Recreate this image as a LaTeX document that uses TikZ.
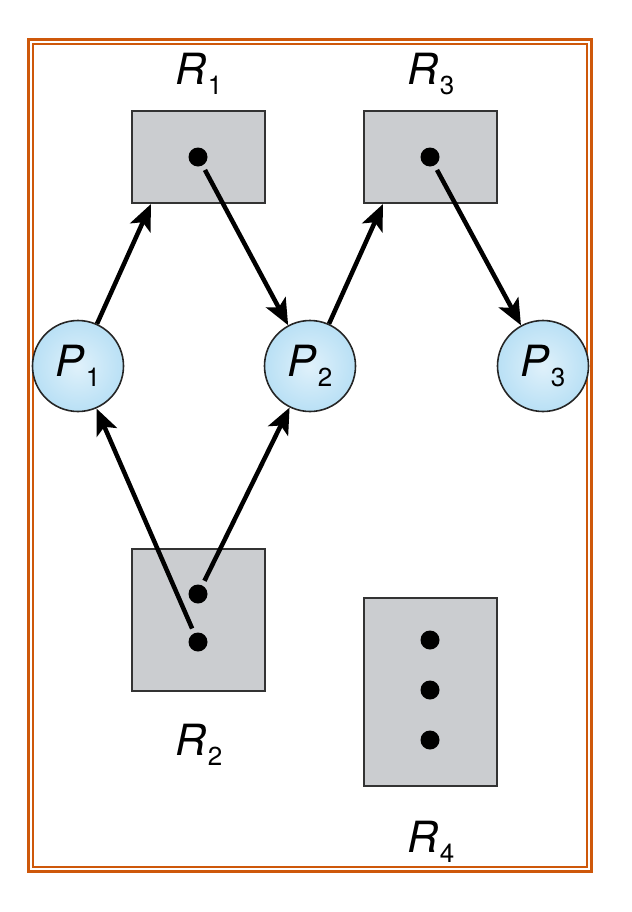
\documentclass[tikz,border=0pt]{standalone}
\usepackage{fontspec}
\setmainfont{TeX Gyre Heros}
\definecolor{frameorange}{RGB}{206,88,10}
\definecolor{boxgray}{RGB}{203,205,208}
\definecolor{procblue}{RGB}{185,224,245}
\usetikzlibrary{arrows.meta, positioning, calc}

% label with an upright, lowered index
\newcommand{\reslbl}[2]{\textit{#1}\kern1bp\raisebox{-10bp}{\fontsize{26bp}{26bp}\selectfont #2}}

\tikzset{
  resbox/.style={draw=black!80, line width=2bp, fill=boxgray, inner sep=0pt},
  proc/.style={circle, draw=black!85, line width=1.6bp, inner sep=0pt, minimum size=91bp,
    inner color=procblue!45, outer color=procblue, font=\fontsize{43bp}{43bp}\selectfont},
  inst/.style={circle, fill=black, inner sep=0pt, minimum size=19bp},
  lbl/.style={anchor=base, font=\fontsize{43bp}{43bp}\selectfont},
  edge/.style={line width=4.5bp, -{Stealth[length=26bp, width=22bp, inset=6bp]}}
}

\begin{document}
\begin{tikzpicture}[x=1bp, y=-1bp]
  \useasboundingbox (0,0) rectangle (632,912);

  % Frame
  \draw[frameorange, line width=3bp] (28,39) rectangle (591,871);
  \draw[frameorange, line width=2.5bp] (33,44) rectangle (587,867);

  % Resources
  \node[resbox, minimum width=133bp, minimum height=92bp] (R1) at (198,157) {};
  \node[resbox, minimum width=133bp, minimum height=92bp] (R3) at (430,157) {};
  \node[resbox, minimum width=133bp, minimum height=142bp] (R2) at (198,620) {};
  \node[resbox, minimum width=133bp, minimum height=188bp] (R4) at (430,692) {};

  % Instances
  \node[inst] (r1a) at (198,157) {};
  \node[inst] (r3a) at (430,157) {};
  \node[inst] (r2a) at (198,594) {};
  \node[inst] (r2b) at (198,642) {};
  \node[inst] (r4a) at (430,640) {};
  \node[inst] (r4b) at (430,690) {};
  \node[inst] (r4c) at (430,740) {};

  % Labels
  \node[lbl] (l1) at (199,84) {\reslbl{R}{1}};
  \node[lbl] (l3) at (431,84) {\reslbl{R}{3}};
  \node[lbl] (l2) at (199,755) {\reslbl{R}{2}};
  \node[lbl] (l4) at (431,852) {\reslbl{R}{4}};

  % Processes
  \node[proc] (P1) at (78,366) {\reslbl{P}{1}};
  \node[proc] (P2) at (310,366) {\reslbl{P}{2}};
  \node[proc] (P3) at (543,366) {\reslbl{P}{3}};

  % Edges
  \draw[edge] (P1) -- (R1.225);
  \draw[edge] (P2) -- (R3.225);
  \draw[edge, shorten <=5bp] (r1a) -- (P2);
  \draw[edge, shorten <=5bp] (r3a) -- (P3);
  \draw[edge, shorten <=5bp] (r2b) -- (P1);
  \draw[edge, shorten <=5bp] (r2a) -- (P2);
\end{tikzpicture}
\end{document}
